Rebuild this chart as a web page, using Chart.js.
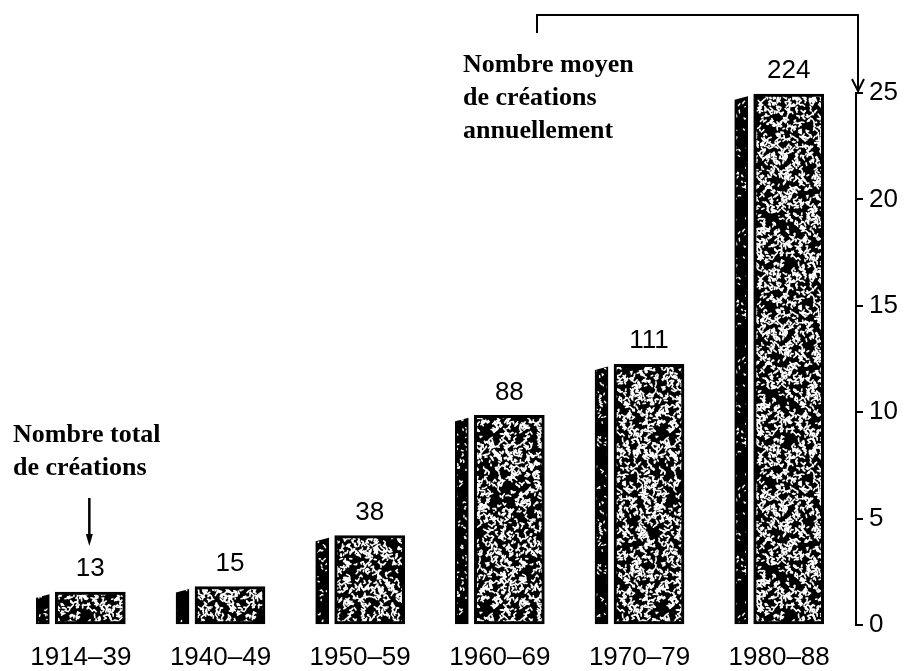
<!DOCTYPE html>
<html lang="fr">
<head>
<meta charset="utf-8">
<title>Nombre de créations par période</title>
<script src="https://cdn.jsdelivr.net/npm/chart.js@4.4.1/dist/chart.umd.min.js"></script>
<style>
  html, body { margin: 0; padding: 0; background: #fff; }
  #wrap { width: 908px; height: 671px; }
</style>
</head>
<body>
<div id="wrap"><canvas id="chart" width="908" height="671"></canvas></div>
<script>
// Périodes, nombre total de créations et moyenne annuelle (axe de droite)
const periods = ['1914–39', '1940–49', '1950–59', '1960–69', '1970–79', '1980–88'];
const totals = [13, 15, 38, 88, 111, 224];
const annualAverage = [1.55, 1.8, 4.2, 9.85, 12.25, 24.95];
const axisTicks = [0, 5, 10, 15, 20, 25];

// Small deterministic generator for the printed grain texture
function mulberry32(a) {
  return function () {
    a |= 0; a = a + 0x6D2B79F5 | 0;
    let t = Math.imul(a ^ a >>> 15, 1 | a);
    t = t + Math.imul(t ^ t >>> 7, 61 | t) ^ t;
    return ((t ^ t >>> 14) >>> 0) / 4294967296;
  };
}

// Black tile covered with short white squiggles (seamless)
function grainPattern(size, strokes, seed, maxSteps, stepLen, lw) {
  const c = document.createElement('canvas');
  c.width = c.height = size;
  const g = c.getContext('2d');
  g.fillStyle = '#000';
  g.fillRect(0, 0, size, size);
  const rnd = mulberry32(seed);
  g.strokeStyle = '#fff';
  g.lineWidth = lw;
  g.lineCap = 'round';
  g.lineJoin = 'round';
  for (let i = 0; i < strokes; i++) {
    const pts = [[rnd() * size, rnd() * size]];
    const n = 1 + Math.floor(rnd() * maxSteps);
    for (let k = 0; k < n; k++) {
      const p = pts[pts.length - 1];
      pts.push([p[0] + (rnd() - 0.5) * stepLen, p[1] + (rnd() - 0.5) * stepLen]);
    }
    for (let ox = -size; ox <= size; ox += size) {
      for (let oy = -size; oy <= size; oy += size) {
        g.beginPath();
        g.moveTo(pts[0][0] + ox, pts[0][1] + oy);
        for (let k = 1; k < pts.length; k++) g.lineTo(pts[k][0] + ox, pts[k][1] + oy);
        g.stroke();
      }
    }
  }
  return g.createPattern(c, 'repeat');
}

const ctx = document.getElementById('chart').getContext('2d');
const faceGrain = grainPattern(176, 1750, 7, 4, 5.5, 1.6);
const sideGrain = grainPattern(128, 440, 19, 2, 3.5, 1.4);

// Horizontal placement of the narrow side face and the wide front face around each period
const SIDE_SHIFT = -0.272;
const FACE_SHIFT = 0.068;

const labelFont = '26px "Liberation Sans", Arial, sans-serif';
const noteFont = 'bold 26px "Liberation Serif", "Times New Roman", serif';

// Totals above bars, notes and arrows
const decorations = {
  id: 'decorations',
  afterDatasetsDraw(chart) {
    const c = chart.ctx;
    const faces = chart.getDatasetMeta(1).data;
    const sides = chart.getDatasetMeta(0).data;
    c.save();

    // bevelled top of the side faces
    c.fillStyle = '#fff';
    sides.forEach(el => {
      const l = el.x - el.width / 2, r = el.x + el.width / 2;
      c.beginPath();
      c.moveTo(l - 1, el.y - 1);
      c.lineTo(r + 1, el.y - 1);
      c.lineTo(r + 1, el.y + 2);
      c.lineTo(l - 1, el.y + 6);
      c.closePath();
      c.fill();
    });

    // totals
    c.fillStyle = '#000';
    c.font = labelFont;
    c.textAlign = 'center';
    c.textBaseline = 'middle';
    faces.forEach((el, i) => {
      c.fillText(String(totals[i]), el.x, el.y - 23);
    });

    // notes
    c.font = noteFont;
    c.textAlign = 'left';
    c.textBaseline = 'alphabetic';
    c.fillText('Nombre total', 13, 442);
    c.fillText('de créations', 13, 475);
    c.fillText('Nombre moyen', 463, 72);
    c.fillText('de créations', 463, 105);
    c.fillText('annuellement', 463, 138);

    // arrow towards the first total
    c.strokeStyle = '#000';
    c.lineWidth = 2.5;
    const ax = faces[0].x - 1;
    c.beginPath();
    c.moveTo(ax, 498);
    c.lineTo(ax, 538);
    c.stroke();
    c.beginPath();
    c.moveTo(ax - 3.5, 534);
    c.lineTo(ax + 3.5, 534);
    c.lineTo(ax, 546);
    c.closePath();
    c.fill();

    // bracket leading to the right-hand axis
    const yScale = chart.scales.y;
    const rx = yScale.left + 2;
    c.lineWidth = 2;
    c.beginPath();
    c.moveTo(537, 33);
    c.lineTo(537, 15);
    c.lineTo(rx, 15);
    c.lineTo(rx, 90);
    c.stroke();
    c.beginPath();
    c.moveTo(rx - 6, 79);
    c.lineTo(rx, 91);
    c.lineTo(rx + 6, 79);
    c.stroke();

    c.restore();
  }
};

new Chart(ctx, {
  type: 'bar',
  data: {
    datasets: [
      {
        label: 'côté',
        data: periods.map((p, i) => ({ x: i + SIDE_SHIFT, y: annualAverage[i] })),
        backgroundColor: sideGrain,
        borderColor: '#000',
        borderWidth: 2,
        borderSkipped: false,
        barThickness: 13,
        grouped: false
      },
      {
        label: 'moyenne annuelle',
        data: periods.map((p, i) => ({ x: i + FACE_SHIFT, y: annualAverage[i] })),
        backgroundColor: faceGrain,
        borderColor: '#000',
        borderWidth: 3,
        borderSkipped: false,
        barThickness: 70,
        grouped: false
      }
    ]
  },
  options: {
    responsive: false,
    animation: false,
    events: [],
    layout: { padding: { top: 93, left: 11, right: 0, bottom: 0 } },
    plugins: { legend: { display: false }, tooltip: { enabled: false } },
    scales: {
      x: {
        type: 'linear',
        min: -0.5,
        max: 5.55,
        offset: false,
        grid: { display: false },
        border: { display: false },
        ticks: {
          stepSize: 1,
          includeBounds: false,
          autoSkip: false,
          maxRotation: 0,
          color: '#000',
          padding: 9,
          font: { family: '"Liberation Sans", Arial, sans-serif', size: 26 },
          callback: v => (Number.isInteger(v) && periods[v]) ? periods[v] : ''
        },
        afterFit: s => { s.height = 46; }
      },
      y: {
        position: 'right',
        min: 0,
        max: 25,
        afterBuildTicks: s => { s.ticks = axisTicks.map(v => ({ value: v })); },
        grid: { drawOnChartArea: false, tickLength: 7, color: '#000', lineWidth: 2 },
        border: { color: '#000', width: 2 },
        ticks: {
          color: '#000',
          padding: 6,
          font: { family: '"Liberation Sans", Arial, sans-serif', size: 26 }
        },
        afterFit: s => { s.width = 52; }
      }
    }
  },
  plugins: [decorations]
});
</script>
</body>
</html>
